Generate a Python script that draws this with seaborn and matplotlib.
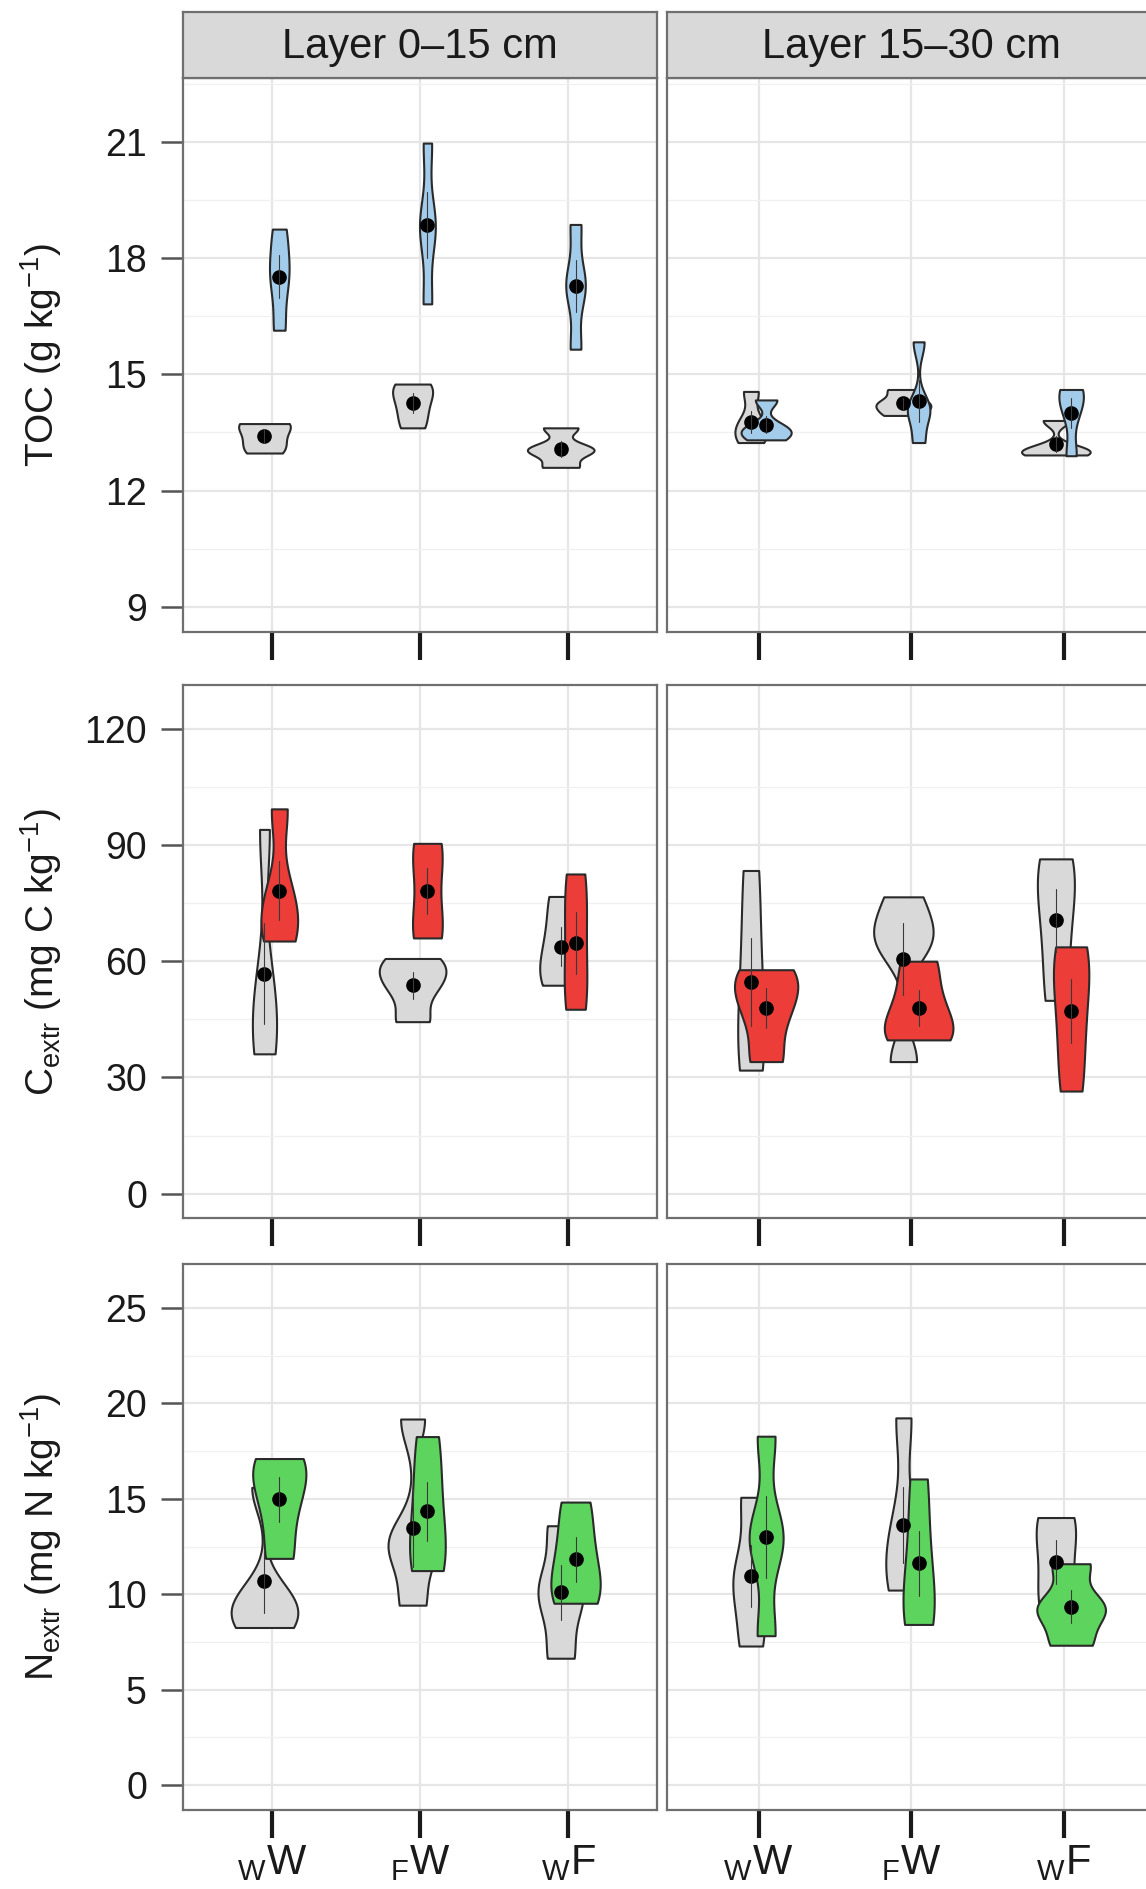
import numpy as np
import pandas as pd
import matplotlib
matplotlib.use("Agg")
import matplotlib.pyplot as plt
from matplotlib.ticker import FixedLocator, NullLocator
import seaborn as sns

# ---------------- data (replicate values) ----------------
treatments = ["wW", "FW", "wF"]
tick_labels = [r"${}_{W}W$", r"${}_{F}W$", r"${}_{W}F$"]
layers = ["Layer 0\u201315 cm", "Layer 15\u201330 cm"]
groups = ["ref", "trt"]

# TOC (g kg-1)
toc_0_15_ref = [[12.97, 13.25, 13.69, 13.73], [13.62, 14.10, 14.55, 14.75], [12.60, 13.00, 13.10, 13.62]]
toc_0_15_trt = [[16.14, 17.30, 17.90, 18.75], [16.82, 18.60, 19.05, 20.97], [15.65, 17.10, 17.50, 18.87]]
toc_15_30_ref = [[13.24, 13.50, 13.80, 14.56], [13.94, 14.15, 14.30, 14.61], [12.92, 12.98, 13.10, 13.81]]
toc_15_30_trt = [[13.31, 13.50, 13.65, 14.34], [13.24, 14.05, 14.15, 15.84], [12.90, 14.00, 14.50, 14.61]]

# C extr (mg C kg-1)
cex_0_15_ref = [[36.1, 42.5, 54.5, 94.0], [44.4, 52.8, 57.3, 60.7], [53.8, 58.0, 66.3, 76.7]]
cex_0_15_trt = [[65.2, 70.0, 78.3, 99.3], [66.0, 70.0, 86.0, 90.4], [47.6, 56.0, 72.7, 82.5]]
cex_15_30_ref = [[31.9, 42.0, 61.0, 83.4], [34.1, 64.5, 67.0, 76.6], [49.9, 66.0, 80.0, 86.4]]
cex_15_30_trt = [[34.1, 46.0, 53.5, 57.8], [39.7, 42.0, 50.0, 60.0], [26.5, 42.0, 56.6, 63.7]]

# N extr (mg N kg-1)
nex_0_15_ref = [[8.26, 9.00, 9.90, 15.60], [9.43, 12.50, 12.80, 19.18], [6.65, 9.50, 10.70, 13.59]]
nex_0_15_trt = [[11.88, 14.50, 16.40, 17.11], [11.24, 12.50, 15.36, 18.26], [9.53, 10.50, 12.50, 14.83]]
nex_15_30_ref = [[7.29, 10.00, 11.45, 15.08], [10.22, 11.50, 13.64, 19.24], [9.00, 10.50, 13.20, 14.02]]
nex_15_30_trt = [[7.83, 12.50, 13.40, 18.28], [8.42, 9.50, 12.50, 16.04], [7.33, 8.90, 9.60, 11.60]]

row_vars = ["TOC", "Cextr", "Nextr"]
row_titles = [r"TOC (g kg$^{-1}$)", r"C$_{extr}$ (mg C kg$^{-1}$)", r"N$_{extr}$ (mg N kg$^{-1}$)"]
row_ticks = [[9, 12, 15, 18, 21], [0, 30, 60, 90, 120], [0, 5, 10, 15, 20, 25]]
row_limits = [(9, 22), (0, 125), (0, 26)]
row_fill = ["#A3CBEA", "#EC3D38", "#5DD45D"]
GREY = "#D9D9D9"

source = {
    ("TOC", 0, "ref"): toc_0_15_ref, ("TOC", 0, "trt"): toc_0_15_trt,
    ("TOC", 1, "ref"): toc_15_30_ref, ("TOC", 1, "trt"): toc_15_30_trt,
    ("Cextr", 0, "ref"): cex_0_15_ref, ("Cextr", 0, "trt"): cex_0_15_trt,
    ("Cextr", 1, "ref"): cex_15_30_ref, ("Cextr", 1, "trt"): cex_15_30_trt,
    ("Nextr", 0, "ref"): nex_0_15_ref, ("Nextr", 0, "trt"): nex_0_15_trt,
    ("Nextr", 1, "ref"): nex_15_30_ref, ("Nextr", 1, "trt"): nex_15_30_trt,
}
records = []
for (var, li, grp), arr in source.items():
    for ti, vals in enumerate(arr):
        for v in vals:
            records.append(dict(var=var, layer=li, tidx=ti, grp=grp, val=v))
df = pd.DataFrame(records)
df["pos"] = df["tidx"] + np.where(df["grp"] == "ref", -0.05, 0.05)


def nrd0(kde):
    """R's default bandwidth (Silverman nrd0) expressed as a scipy factor."""
    x = np.asarray(kde.dataset).ravel()
    sd = x.std(ddof=1)
    q75, q25 = np.percentile(x, [75, 25])
    lo = min(sd, (q75 - q25) / 1.34) if q75 > q25 else sd
    return 0.9 * lo * len(x) ** -0.2 / sd


# ---------------- figure ----------------
sns.set_theme(style="white")
plt.rcParams["font.family"] = ["Liberation Sans", "DejaVu Sans"]
plt.rcParams["mathtext.fontset"] = "custom"
plt.rcParams["mathtext.rm"] = "Liberation Sans"
plt.rcParams["mathtext.it"] = "Liberation Sans:italic"
plt.rcParams["mathtext.bf"] = "Liberation Sans:bold"
plt.rcParams["mathtext.sf"] = "Liberation Sans"
plt.rcParams["mathtext.default"] = "regular"

W, H = 1146, 1889
fig = plt.figure(figsize=(W / 100, H / 100), dpi=100)

col_x = [(183, 657), (667, 1155)]
row_y = [(78, 632), (685, 1218), (1264, 1810)]
BORDER = "#6f6f6f"
TXT = "#1a1a1a"

for r in range(3):
    for c in range(2):
        x0, x1 = col_x[c]
        y0, y1 = row_y[r]
        ax = fig.add_axes([x0 / W, 1 - y1 / H, (x1 - x0) / W, (y1 - y0) / H])
        sub = df[(df["var"] == row_vars[r]) & (df["layer"] == c)]
        sns.violinplot(data=sub, x="pos", y="val", hue="grp", hue_order=groups,
                       native_scale=True, dodge=False,
                       palette={"ref": GREY, "trt": row_fill[r]}, saturation=1,
                       cut=0, density_norm="area", common_norm=True, width=4.5,
                       inner=None, linewidth=1.5, linecolor="#2a2a2a",
                       bw_method=nrd0, legend=False, ax=ax)
        sns.pointplot(data=sub, x="pos", y="val", hue="grp", hue_order=groups,
                      native_scale=True, dodge=False,
                      palette={"ref": "black", "trt": "black"},
                      errorbar="se", markers="o", markersize=8.5,
                      linestyle="none", err_kws={"linewidth": 0.8, "color": "#3a3a3a"},
                      legend=False, ax=ax)

        lo, hi = row_limits[r]
        pad = 0.05 * (hi - lo)
        ax.set_ylim(lo - pad, hi + pad)
        ax.set_xlim(-0.6, 2.6)
        ticks = row_ticks[r]
        step = ticks[1] - ticks[0]
        ax.yaxis.set_major_locator(FixedLocator(ticks))
        ax.yaxis.set_minor_locator(FixedLocator(
            [t + step / 2 for t in [ticks[0] - step] + ticks]))
        ax.set_xticks([0, 1, 2])
        ax.xaxis.set_minor_locator(NullLocator())

        ax.set_axisbelow(True)
        ax.grid(which="major", color="#E6E6E6", linewidth=1.6)
        ax.grid(which="minor", axis="y", color="#F1F1F1", linewidth=1.0)
        for sp in ax.spines.values():
            sp.set_color(BORDER)
            sp.set_linewidth(1.6)
            sp.set_visible(True)
        ax.set_facecolor("white")

        ax.tick_params(axis="x", which="major", length=20, width=3, color=TXT,
                       direction="out", pad=4, labelsize=30, labelcolor=TXT,
                       bottom=True)
        if r == 2:
            ax.set_xticklabels(tick_labels)
        else:
            ax.set_xticklabels([])
        ax.set_xlabel("")

        if c == 0:
            ax.tick_params(axis="y", which="major", length=16, width=1.8,
                           color="#555555", direction="out", pad=10,
                           labelsize=27, labelcolor=TXT, left=True)
            ax.tick_params(axis="y", which="minor", length=0)
            ax.set_ylabel(row_titles[r], fontsize=28, color=TXT)
            ax.yaxis.set_label_coords(-0.25, 0.5)
        else:
            ax.tick_params(axis="y", which="both", length=0, labelleft=False)
            ax.set_ylabel("")

        if r == 0:
            sax = fig.add_axes([x0 / W, 1 - 78 / H, (x1 - x0) / W, (78 - 12) / H])
            sax.set_facecolor(GREY)
            sax.set_xticks([])
            sax.set_yticks([])
            for sp in sax.spines.values():
                sp.set_color(BORDER)
                sp.set_linewidth(1.6)
                sp.set_visible(True)
            sax.text(0.5, 0.47, layers[c], ha="center", va="center",
                     fontsize=30, color=TXT, transform=sax.transAxes)

fig.savefig("out.png", dpi=100)
